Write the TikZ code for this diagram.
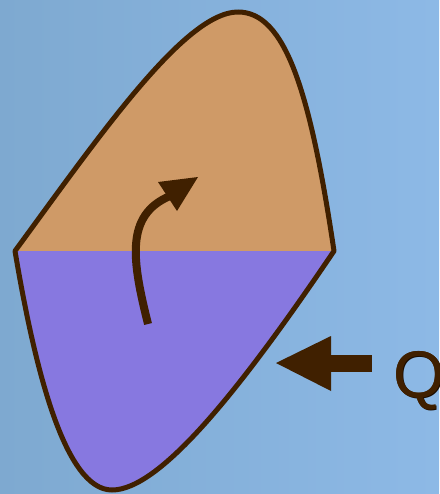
\documentclass[tikz,border=0pt]{standalone}
\usepackage{fontspec}
\setmainfont{Liberation Sans}
\definecolor{bgL}{HTML}{7EA9D0}
\definecolor{bgR}{HTML}{8DB9E6}
\definecolor{tan}{HTML}{CF9A67}
\definecolor{purp}{HTML}{8778E0}
\definecolor{brn}{HTML}{402000}
\definecolor{shd}{HTML}{1A0C00}
\begin{document}
\begin{tikzpicture}[x=1pt,y=-1pt,
  outline/.style={draw=brn,line width=5pt,line join=round},
  headfill/.style={fill=brn,draw=none},
  qtext/.style={anchor=base west,inner sep=0pt,font=\fontsize{66}{66}\selectfont}]
\useasboundingbox (0,0) rectangle (439,494);
\clip (0,0) rectangle (439,494);
\shade[left color=bgL,right color=bgR] (0,0) rectangle (439,494);
% named vertices
\coordinate (L) at (15,251);
\coordinate (R) at (334,251);
\coordinate (T) at (238,12);
\coordinate (B) at (112,490);
% top half
\fill[tan] (L) .. controls (100,135) and (185,12) .. (T)
  .. controls (285,12) and (310,90) .. (R) -- cycle;
% bottom half
\fill[purp] (L) .. controls (35,370) and (65,490) .. (B)
  .. controls (160,490) and (240,390) .. (R) -- cycle;
% outline
\draw[outline] (L) .. controls (100,135) and (185,12) .. (T)
  .. controls (285,12) and (310,90) .. (R)
  .. controls (240,390) and (160,490) .. (B)
  .. controls (65,490) and (35,370) .. cycle;
% curved arrow
\coordinate (cs) at (148,324);
\coordinate (ce) at (170,196);
\draw[brn,line width=8pt] (cs) .. controls (132,260) and (125,215) .. (ce);
\fill[headfill] (158,182) -- (198,177) -- (177,211) -- cycle;
% Q arrow
\coordinate (qtip) at (276,363);
\fill[headfill] (qtip) -- (331,336) -- (331,391) -- cycle;
\fill[headfill] (329,355) rectangle (372,372);
\node[qtext,text=shd] (Qs) at (394.2,398.2) {Q};
\node[qtext,text=brn] (Q) at (393,397) {Q};
\node[qtext,text=brn] (Q2) at (393.6,397) {Q};
\end{tikzpicture}
\end{document}
